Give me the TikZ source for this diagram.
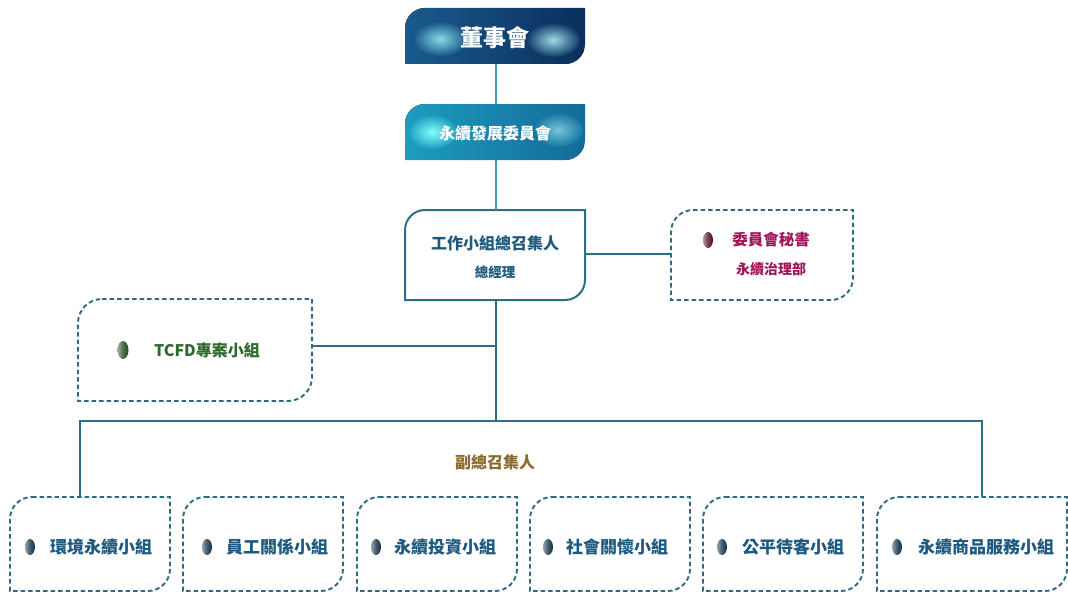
\documentclass[tikz,border=0pt]{standalone}
\usepackage{fontspec}
\newfontfamily\cjk{Noto Sans CJK TC}
\usetikzlibrary{shapes.geometric}
\definecolor{linec}{HTML}{2C7088}
\definecolor{lightline}{HTML}{3E9AB2}
\definecolor{dashc}{HTML}{2E6B82}
\definecolor{txt}{HTML}{1E5A80}
\definecolor{sec}{HTML}{A3145A}
\definecolor{tcfd}{HTML}{2E6A2E}
\definecolor{dep}{HTML}{8A6A2E}
\definecolor{boardA}{HTML}{1A5A8C}
\definecolor{boardB}{HTML}{0A2F5C}
\definecolor{comA}{HTML}{1C9DC0}
\definecolor{comB}{HTML}{146A98}
\newcommand\leafdraw[3]{%
  \path[#3] ([xshift=#2]#1.north west) -- (#1.north east) -- ([yshift=#2]#1.south east)
    arc[start angle=0,end angle=-90,radius=#2] -- (#1.south west) -- ([yshift=-#2]#1.north west)
    arc[start angle=180,end angle=90,radius=#2] -- cycle;}
\tikzset{
  box/.style={inner sep=0pt, outer sep=0pt, draw=none},
  dashbox/.style={draw=dashc, line width=1.9pt, dash pattern=on 4.5pt off 3pt},
  solidbox/.style={draw=linec, line width=2pt},
  conn/.style={draw=linec, line width=2.2pt},
  thinconn/.style={draw=lightline, line width=1.6pt},
  lbl/.style={font=\cjk\bfseries\fontsize{17}{20}\selectfont, text=txt, inner sep=0pt},
  bullet/.style={shape=ellipse, minimum width=10pt, minimum height=16pt, inner sep=0pt, left color=#1!45!white, right color=#1, middle color=#1!80!white},
}
\begin{document}
\begin{tikzpicture}[x=1pt,y=1pt]
\useasboundingbox (0,0) rectangle (1068,-594);
% boxes
\node[box, minimum width=180, minimum height=56] (board) at (495,-36) {};
\node[box, minimum width=180, minimum height=56] (com) at (495,-132) {};
\node[box, minimum width=180, minimum height=90] (conv) at (495,-255) {};
\node[box, minimum width=182, minimum height=90] (secr) at (762,-255) {};
\node[box, minimum width=234, minimum height=102] (tcfdb) at (195,-350) {};
\node[box, minimum width=160, minimum height=94] (b1) at (90,-544) {};
\node[box, minimum width=160, minimum height=94] (b2) at (263,-544) {};
\node[box, minimum width=160, minimum height=94] (b3) at (437,-544) {};
\node[box, minimum width=160, minimum height=94] (b4) at (610,-544) {};
\node[box, minimum width=160, minimum height=94] (b5) at (783,-544) {};
\node[box, minimum width=190, minimum height=94] (b6) at (972,-544) {};
% leaf borders and fills
\begin{scope}
\leafdraw{board}{20}{clip}
\fill[left color=boardA, right color=boardB] (board.north west) rectangle (board.south east);
\shade[inner color=boardA!45!cyan!50!white, outer color=boardA!92!boardB] (440,-39) ellipse[x radius=27, y radius=17];
\shade[inner color=boardA!55!cyan!40!white, outer color=boardA!25!boardB] (553,-40) ellipse[x radius=27, y radius=17];
\end{scope}
\begin{scope}
\leafdraw{com}{20}{clip}
\fill[left color=comA, right color=comB] (com.north west) rectangle (com.south east);
\shade[inner color=cyan!50!white, outer color=comA!95!comB] (432,-132) ellipse[x radius=25, y radius=17];
\shade[inner color=comA!60!white, outer color=comA!25!comB] (558,-130) ellipse[x radius=25, y radius=17];
\end{scope}
\leafdraw{conv}{20}{fill=white, solidbox}
\leafdraw{secr}{22}{dashbox}
\leafdraw{tcfdb}{24}{dashbox}
\foreach \b in {b1,b2,b3,b4,b5,b6} {\leafdraw{\b}{22}{dashbox}}
% texts
\node[lbl, text=white, font=\cjk\bfseries\fontsize{23}{26}\selectfont] (tboard) at (495,-38) {董事會};
\node[lbl, text=white, font=\cjk\bfseries\fontsize{16}{19}\selectfont] (tcom) at (495,-133) {永續發展委員會};
\node[lbl, font=\cjk\bfseries\fontsize{16}{19}\selectfont] (tconv) at (495,-243) {工作小組總召集人};
\node[lbl, font=\cjk\bfseries\fontsize{13.5}{16}\selectfont] (tgm) at (495,-272) {總經理};
\node[bullet=sec!50!black] (dsec) at (708,-240) {};
\node[lbl, text=sec, font=\cjk\bfseries\fontsize{15.5}{18}\selectfont] (tsec) at (771,-240) {委員會秘書};
\node[lbl, text=sec, font=\cjk\bfseries\fontsize{14}{17}\selectfont] (tsec2) at (771,-269) {永續治理部};
\node[bullet=tcfd!70!black, minimum width=11pt, minimum height=18pt] (dtcfd) at (123,-350) {};
\node[lbl, text=tcfd, font=\cjk\bfseries\fontsize{16}{19}\selectfont] (ttcfd) at (207,-350) {TCFD專案小組};
\node[lbl, text=dep, font=\cjk\bfseries\fontsize{16}{19}\selectfont] (tdep) at (495,-462) {副總召集人};
\node[bullet=txt!55!black] (d1) at (30,-547) {};
\node[lbl, anchor=west] (t1) at (50,-547) {環境永續小組};
\node[bullet=txt!55!black] (d2) at (207,-547) {};
\node[lbl, anchor=west] (t2) at (226,-547) {員工關係小組};
\node[bullet=txt!55!black] (d3) at (376,-547) {};
\node[lbl, anchor=west] (t3) at (394,-547) {永續投資小組};
\node[bullet=txt!55!black] (d4) at (548,-547) {};
\node[lbl, anchor=west] (t4) at (566,-547) {社會關懷小組};
\node[bullet=txt!55!black] (d5) at (722,-547) {};
\node[lbl, anchor=west] (t5) at (742,-547) {公平待客小組};
\node[bullet=txt!55!black] (d6) at (897,-547) {};
\node[lbl, anchor=west] (t6) at (918,-547) {永續商品服務小組};
% connectors
\coordinate (bus) at (496,-421);
\coordinate (busL) at (80,-421);
\coordinate (busR) at (982,-421);
\coordinate (tj) at (496,-346);
\draw[thinconn] (board.south -| bus) -- (com.north -| bus);
\draw[thinconn] (com.south -| bus) -- (conv.north -| bus);
\draw[conn] (conv.east |- 0,-254) -- (secr.west |- 0,-254);
\draw[conn] (conv.south -| bus) -- (bus);
\draw[conn] (tcfdb.east |- tj) -- (tj);
\draw[conn] (busL |- b1.north) -- (busL) -- (busR) -- (busR |- b6.north);
\end{tikzpicture}
\end{document}
